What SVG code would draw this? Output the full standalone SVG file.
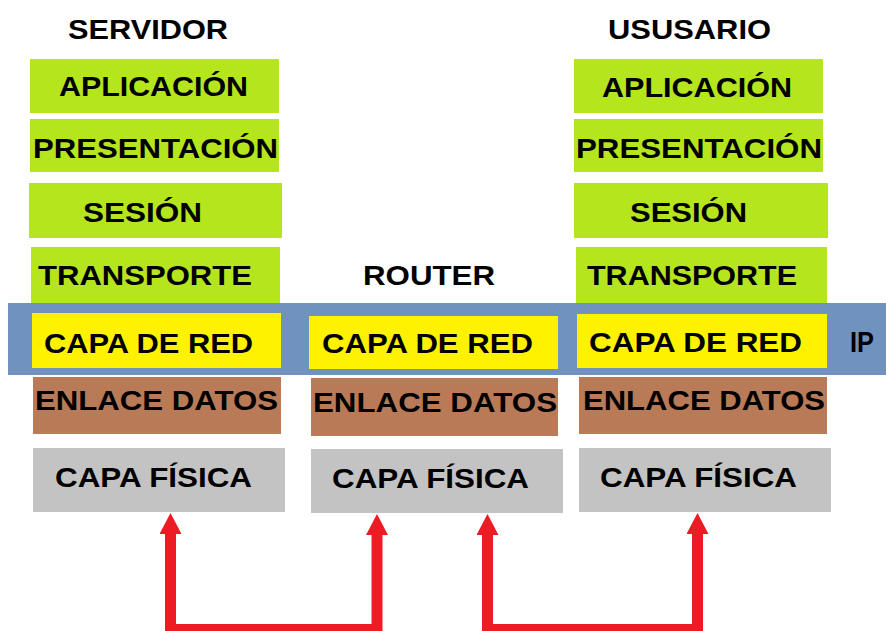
<svg xmlns="http://www.w3.org/2000/svg" width="886" height="631" viewBox="0 0 886 631">
<style>
.t{font-family:"Liberation Sans",Arial,sans-serif;font-weight:bold;font-size:28px;fill:#000}
.h{font-size:28px}
.ip{font-size:30px}
.g{fill:#B5E61D}
.y{fill:#FFF200}
.b{fill:#B97A57}
.s{fill:#C3C3C3}
.band{fill:#7092BE}
.conn{fill:none;stroke:#ED1C24;stroke-width:11;stroke-linejoin:miter}
</style>
<defs>
<marker id="ah" markerUnits="userSpaceOnUse" markerWidth="22" markerHeight="22" viewBox="0 0 22 22" refX="1" refY="11" orient="auto-start-reverse">
<path d="M0,0 L21,11 L0,22 z" fill="#ED1C24"/>
</marker>
</defs>
<rect width="886" height="631" fill="#fff"/>

<g id="band-ip">
<rect class="band" x="8" y="303" width="878" height="72"/>
<text class="t ip" x="850" y="352" textLength="24" lengthAdjust="spacingAndGlyphs">IP</text>
</g>

<g id="title-servidor"><text class="t h" x="68" y="38.5" textLength="160" lengthAdjust="spacingAndGlyphs">SERVIDOR</text></g>
<g id="title-router"><text class="t h" x="363" y="285" textLength="132" lengthAdjust="spacingAndGlyphs">ROUTER</text></g>
<g id="title-usuario"><text class="t h" x="608" y="38.5" textLength="163" lengthAdjust="spacingAndGlyphs">USUSARIO</text></g>

<g id="srv-aplicacion"><rect class="g" x="30" y="59" width="249" height="54"/><text class="t" x="59" y="96" textLength="189" lengthAdjust="spacingAndGlyphs">APLICACIÓN</text></g>
<g id="srv-presentacion"><rect class="g" x="30" y="119" width="249" height="53"/><text class="t" x="33" y="158" textLength="245" lengthAdjust="spacingAndGlyphs">PRESENTACIÓN</text></g>
<g id="srv-sesion"><rect class="g" x="29" y="183" width="253" height="55"/><text class="t" x="83" y="222" textLength="119" lengthAdjust="spacingAndGlyphs">SESIÓN</text></g>
<g id="srv-transporte"><rect class="g" x="31" y="247" width="249" height="56"/><text class="t" x="38" y="285" textLength="214" lengthAdjust="spacingAndGlyphs">TRANSPORTE</text></g>
<g id="srv-red"><rect class="y" x="32" y="313" width="249" height="55"/><text class="t" x="44" y="352.5" textLength="209" lengthAdjust="spacingAndGlyphs">CAPA DE RED</text></g>
<g id="srv-enlace"><rect class="b" x="33" y="377" width="248" height="57"/><text class="t" x="35" y="410" textLength="243" lengthAdjust="spacingAndGlyphs">ENLACE DATOS</text></g>
<g id="srv-fisica"><rect class="s" x="33" y="448" width="252" height="64"/><text class="t" x="55" y="487" textLength="197" lengthAdjust="spacingAndGlyphs">CAPA FÍSICA</text></g>

<g id="rtr-red"><rect class="y" x="309" y="316" width="249" height="53"/><text class="t" x="322" y="353" textLength="211" lengthAdjust="spacingAndGlyphs">CAPA DE RED</text></g>
<g id="rtr-enlace"><rect class="b" x="311" y="378" width="247" height="58"/><text class="t" x="313" y="412" textLength="244" lengthAdjust="spacingAndGlyphs">ENLACE DATOS</text></g>
<g id="rtr-fisica"><rect class="s" x="311" y="449" width="252" height="64"/><text class="t" x="332" y="488" textLength="197" lengthAdjust="spacingAndGlyphs">CAPA FÍSICA</text></g>

<g id="usr-aplicacion"><rect class="g" x="574" y="59" width="249" height="54"/><text class="t" x="602" y="97" textLength="190" lengthAdjust="spacingAndGlyphs">APLICACIÓN</text></g>
<g id="usr-presentacion"><rect class="g" x="574" y="119" width="249" height="53"/><text class="t" x="576" y="158" textLength="246" lengthAdjust="spacingAndGlyphs">PRESENTACIÓN</text></g>
<g id="usr-sesion"><rect class="g" x="574" y="183" width="254" height="55"/><text class="t" x="630" y="222" textLength="117" lengthAdjust="spacingAndGlyphs">SESIÓN</text></g>
<g id="usr-transporte"><rect class="g" x="576" y="247" width="251" height="56"/><text class="t" x="587" y="285" textLength="210" lengthAdjust="spacingAndGlyphs">TRANSPORTE</text></g>
<g id="usr-red"><rect class="y" x="577" y="314" width="250" height="54"/><text class="t" x="589" y="352" textLength="213" lengthAdjust="spacingAndGlyphs">CAPA DE RED</text></g>
<g id="usr-enlace"><rect class="b" x="579" y="377" width="248" height="57"/><text class="t" x="583" y="410" textLength="242" lengthAdjust="spacingAndGlyphs">ENLACE DATOS</text></g>
<g id="usr-fisica"><rect class="s" x="579" y="448" width="252" height="64"/><text class="t" x="600" y="487" textLength="197" lengthAdjust="spacingAndGlyphs">CAPA FÍSICA</text></g>

<g id="connectors">
<path class="conn" d="M170.5,533 V629.5 H377 V534" marker-start="url(#ah)" marker-end="url(#ah)"/>
<path class="conn" d="M487.5,534 V629.5 H697.5 V533" marker-start="url(#ah)" marker-end="url(#ah)"/>
</g>
</svg>
